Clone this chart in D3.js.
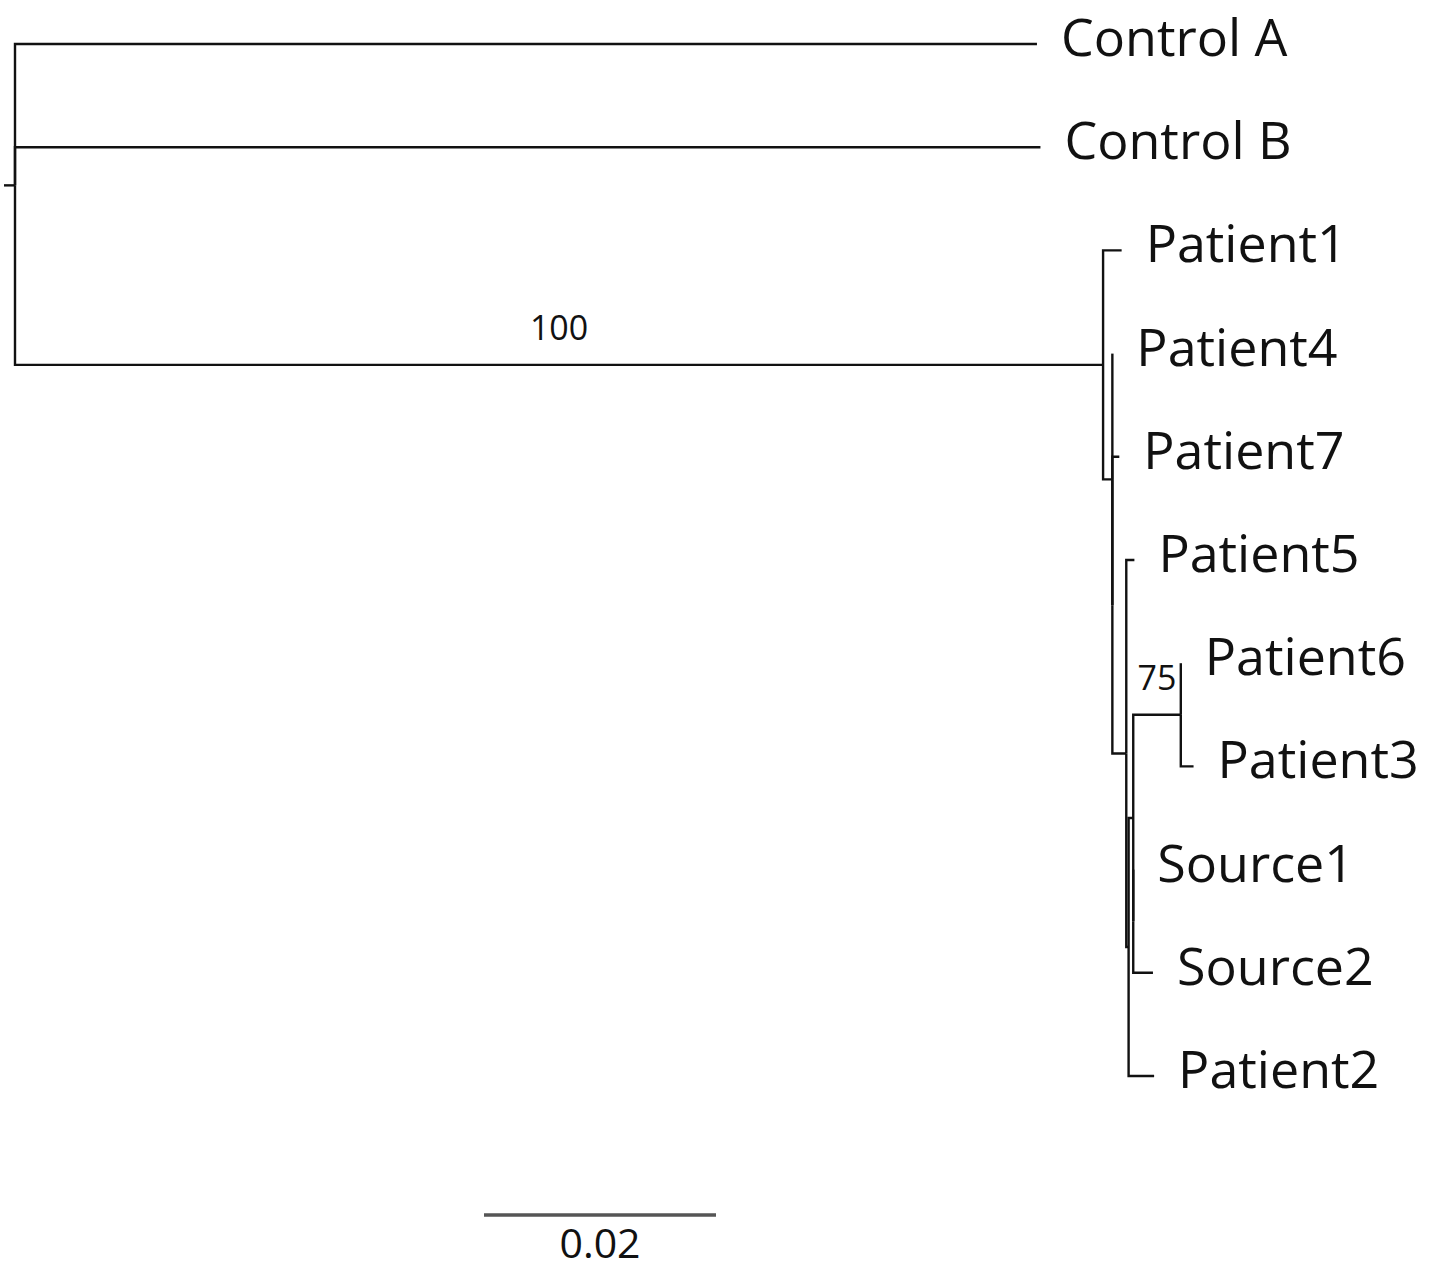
<!DOCTYPE html>
<html>
<head>
<meta charset="utf-8">
<script src="https://cdn.jsdelivr.net/npm/d3@7"></script>
<style>
  html, body { margin: 0; padding: 0; background: #fff; }
  svg { display: block; }
  .leaf { font-family: "Open Sans", "Noto Sans", sans-serif; font-size: 52px; fill: #111; }
  .boot { font-family: "Open Sans", "Noto Sans", sans-serif; font-size: 34px; fill: #111; }
  .scale-label { font-family: "Open Sans", "Noto Sans", sans-serif; font-size: 41px; fill: #111; }
</style>
</head>
<body>
<script>
// ---- Tree data (node ids, parent ids, branch lengths in substitutions/site) ----
const nodeIds = ["root", "Control A", "Control B", "n1", "Patient1", "n2", "Patient4", "n3", "Patient7",
  "n4", "Patient5", "n5", "n6", "n7", "Patient6", "Patient3", "n8", "Source1", "Source2", "Patient2"];
const parentIds = ["", "root", "root", "root", "n1", "n1", "n2", "n2", "n3",
  "n3", "n4", "n4", "n5", "n6", "n7", "n7", "n6", "n8", "n8", "n5"];
const branchLengths = [0, 0.0881, 0.0884, 0.0938, 0.0016, 0.0008, 0, 0, 0.0006,
  0.0012, 0.0007, 0.0002, 0.0004, 0.0041, 0, 0.0011, 0, 0, 0.0017, 0.0022];
const rootStem = 0.00095;

// bootstrap support values
const bootstrapNodes = ["n1", "n7"];
const bootstrapValues = [100, 75];

// scale bar
const scaleBarLength = 0.02;
const scaleBarLabel = "0.02";

// ---- Layout ----
const W = 1439, H = 1270;
const svg = d3.select("body").append("svg").attr("width", W).attr("height", H);

const table = nodeIds.map((id, i) => ({ id, parent: parentIds[i] || null, len: branchLengths[i] }));
const root = d3.stratify().id(d => d.id).parentId(d => d.parent)(table);

// vertical placement: leaves evenly spaced, internal nodes at mean of children
const leaves = root.leaves();
const yScale = d3.scaleLinear().domain([0, leaves.length - 1]).range([44, 1076]);
leaves.forEach((n, i) => { n.yy = yScale(i); });
root.eachAfter(n => { if (n.children) n.yy = d3.mean(n.children, c => c.yy); });

// horizontal placement: cumulative branch lengths
root.each(n => { n.dist = n.parent ? n.parent.dist + n.data.len : 0; });
const xScale = d3.scaleLinear().domain([0, 0.1]).range([15, 1175]);

const g = svg.append("g");
const stroke = "#111", sw = 2.4;

// root stem
g.append("path")
  .attr("d", `M${xScale(-rootStem)},${root.yy}H${xScale(0)}`)
  .attr("fill", "none").attr("stroke", stroke).attr("stroke-width", sw);

// branches (elbow)
g.selectAll("path.branch")
  .data(root.descendants().filter(n => n.parent))
  .join("path")
  .attr("class", "branch")
  .attr("d", n => `M${xScale(n.parent.dist)},${n.parent.yy}V${n.yy}H${xScale(n.dist)}`)
  .attr("fill", "none")
  .attr("stroke", stroke)
  .attr("stroke-width", sw);

// leaf labels
g.selectAll("text.leaf")
  .data(leaves)
  .join("text")
  .attr("class", "leaf")
  .attr("x", n => xScale(n.dist) + 24)
  .attr("y", n => n.yy + 12)
  .text(n => n.id);

// bootstrap labels
const bootData = bootstrapNodes.map((id, i) => ({ node: root.find(n => n.id === id), value: bootstrapValues[i] }));
g.selectAll("text.boot")
  .data(bootData)
  .join("text")
  .attr("class", "boot")
  .attr("text-anchor", "middle")
  .attr("x", d => (xScale(d.node.parent.dist) + xScale(d.node.dist)) / 2)
  .attr("y", d => d.node.yy - 25)
  .text(d => d.value);

// scale bar
const sbX = 484, sbY = 1215;
const sbLen = xScale(scaleBarLength) - xScale(0);
svg.append("line")
  .attr("x1", sbX).attr("x2", sbX + sbLen)
  .attr("y1", sbY).attr("y2", sbY)
  .attr("stroke", "#555").attr("stroke-width", 3.5);
svg.append("text")
  .attr("class", "scale-label")
  .attr("text-anchor", "middle")
  .attr("x", sbX + sbLen / 2)
  .attr("y", 1258)
  .text(scaleBarLabel);
</script>
</body>
</html>
